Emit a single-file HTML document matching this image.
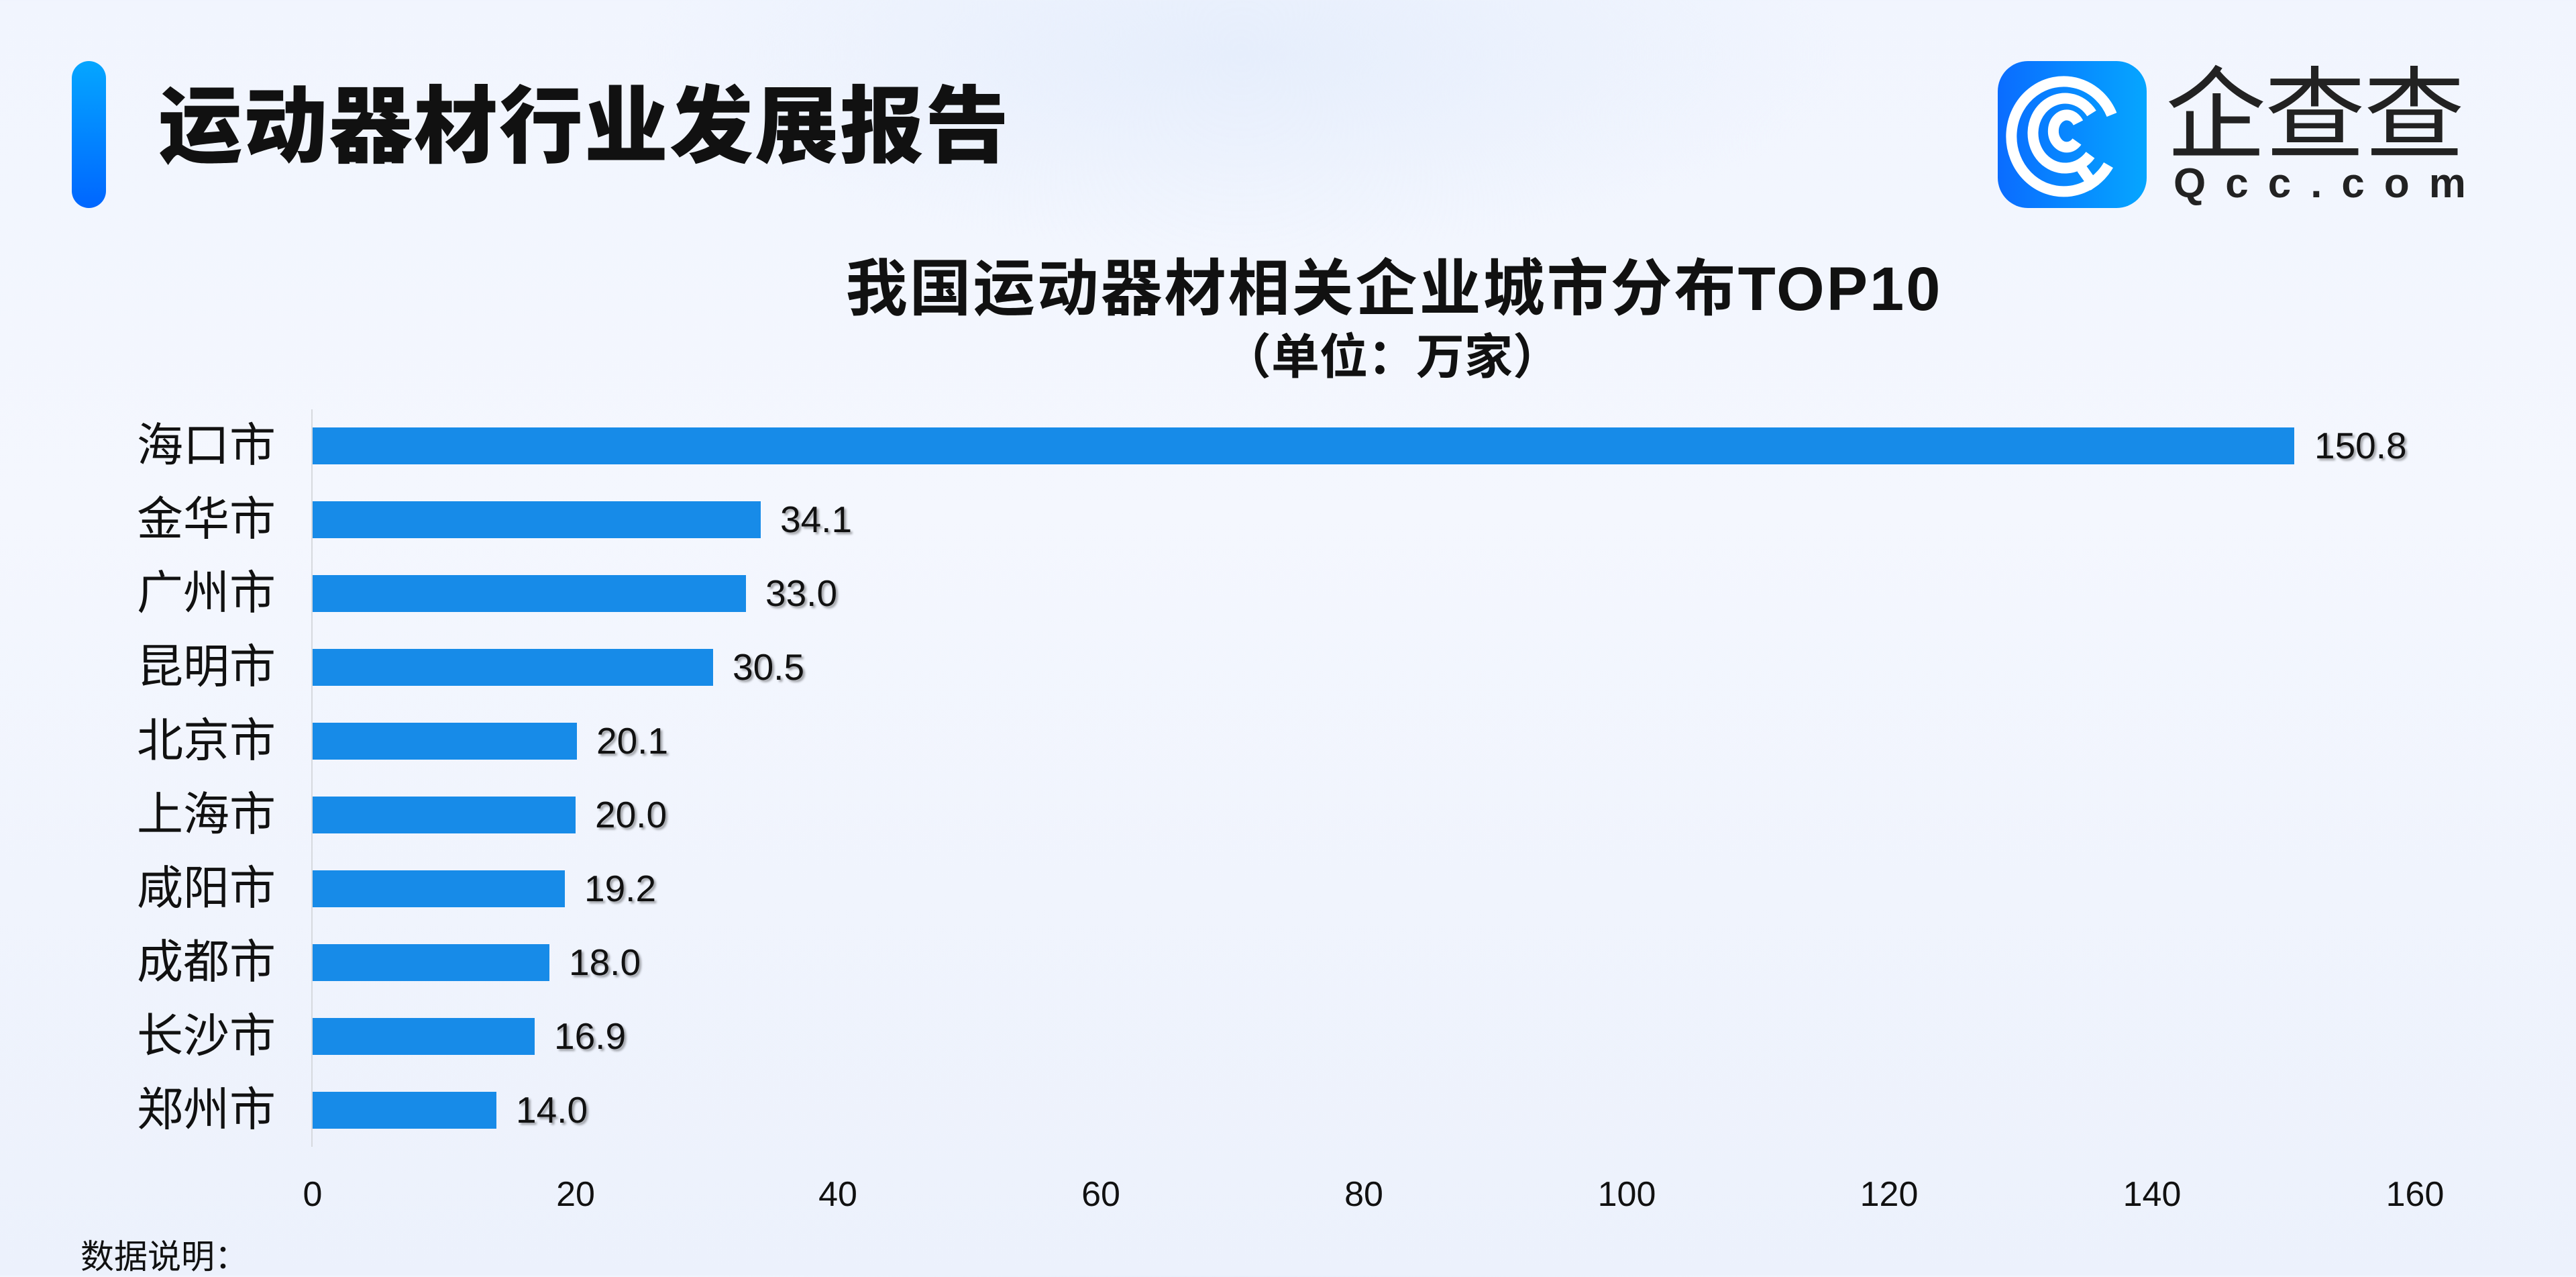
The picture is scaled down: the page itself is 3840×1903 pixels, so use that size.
<!DOCTYPE html>
<html><head><meta charset="utf-8"><style>
*{margin:0;padding:0;box-sizing:border-box}
body{width:3840px;height:1901px;overflow:hidden;position:relative;
background:radial-gradient(ellipse 900px 300px at 1850px 80px,#e6eefc 0%,rgba(230,238,252,0) 100%),linear-gradient(180deg,#f1f5fe 0%,#f4f7fe 40%,#ecf1fc 100%);
font-family:"Liberation Sans","Noto Sans CJK SC",sans-serif;color:#111}
.a{position:absolute;white-space:nowrap}
.bar{position:absolute;left:466px;height:55px;background:#178be8}
.city{position:absolute;right:3429px;font-size:69px;line-height:70px;color:#111}
.val{position:absolute;font-size:55px;line-height:60px;color:#111;text-shadow:3px 3px 3px rgba(0,0,0,.35)}
.tick{position:absolute;top:1750px;font-size:52px;line-height:60px;width:200px;text-align:center;margin-left:-100px;color:#111}
</style></head><body>
<div class="a" style="left:107px;top:91px;width:51px;height:219px;border-radius:26px;background:linear-gradient(180deg,#05a6ff,#0066ff)"></div>
<div class="a" style="left:236px;top:120px;font-size:125px;line-height:140px;font-weight:900;letter-spacing:2px">运动器材行业发展报告</div>
<svg class="a" style="left:2978px;top:91px" width="222" height="219" viewBox="0 0 222 219">
<defs><linearGradient id="g" x1="0" x2="1"><stop offset="0" stop-color="#0a6cff"/><stop offset="1" stop-color="#05a6ff"/></linearGradient></defs>
<rect width="222" height="219" rx="45" fill="url(#g)"/>
<g fill="none" stroke="#fff" stroke-width="16" stroke-linecap="butt">
<path d="M165 155 A78 82 0 1 1 170 80"/>
<path d="M138 140 A48 52 0 1 1 140 78"/>
<path d="M118 120 A20 24 0 1 1 120 92"/>
<path d="M125 160 L145 188"/>
</g></svg>
<div class="a" style="left:3228px;top:92px;font-size:150px;line-height:160px;color:#222;letter-spacing:-2px">企查查</div>
<div class="a" style="left:3240px;top:242px;font-size:62px;line-height:64px;color:#222;letter-spacing:29px;font-weight:bold">Qcc.com</div>
<div class="a" style="left:1078px;width:2000px;text-align:center;top:376px;font-size:92px;line-height:110px;font-weight:bold;letter-spacing:3px">我国运动器材相关企业城市分布TOP10</div>
<div class="a" style="left:1075px;width:2000px;text-align:center;top:493px;font-size:72px;line-height:80px;font-weight:bold">（单位：万家）</div>
<div class="a" style="left:464px;top:610px;width:2px;height:1099px;background:#d6d9de"></div>

<div class="bar" style="top:637px;width:2954px"></div>
<div class="bar" style="top:747px;width:668px"></div>
<div class="bar" style="top:857px;width:646px"></div>
<div class="bar" style="top:967px;width:597px"></div>
<div class="bar" style="top:1077px;width:394px"></div>
<div class="bar" style="top:1187px;width:392px"></div>
<div class="bar" style="top:1297px;width:376px"></div>
<div class="bar" style="top:1407px;width:353px"></div>
<div class="bar" style="top:1517px;width:331px"></div>
<div class="bar" style="top:1627px;width:274px"></div>

<div class="city" style="top:629px">海口市</div>
<div class="city" style="top:739px">金华市</div>
<div class="city" style="top:849px">广州市</div>
<div class="city" style="top:959px">昆明市</div>
<div class="city" style="top:1069px">北京市</div>
<div class="city" style="top:1179px">上海市</div>
<div class="city" style="top:1289px">咸阳市</div>
<div class="city" style="top:1399px">成都市</div>
<div class="city" style="top:1509px">长沙市</div>
<div class="city" style="top:1619px">郑州市</div>

<div class="val" style="left:3450px;top:634px">150.8</div>
<div class="val" style="left:1163px;top:744px">34.1</div>
<div class="val" style="left:1141px;top:854px">33.0</div>
<div class="val" style="left:1092px;top:964px">30.5</div>
<div class="val" style="left:889px;top:1074px">20.1</div>
<div class="val" style="left:887px;top:1184px">20.0</div>
<div class="val" style="left:871px;top:1294px">19.2</div>
<div class="val" style="left:848px;top:1404px">18.0</div>
<div class="val" style="left:826px;top:1514px">16.9</div>
<div class="val" style="left:769px;top:1624px">14.0</div>

<div class="tick" style="left:466px">0</div>
<div class="tick" style="left:858px">20</div>
<div class="tick" style="left:1249px">40</div>
<div class="tick" style="left:1641px">60</div>
<div class="tick" style="left:2033px">80</div>
<div class="tick" style="left:2425px">100</div>
<div class="tick" style="left:2816px">120</div>
<div class="tick" style="left:3208px">140</div>
<div class="tick" style="left:3600px">160</div>

<div class="a" style="left:120px;top:1843px;font-size:50px;line-height:60px">数据说明：</div>
</body></html>
